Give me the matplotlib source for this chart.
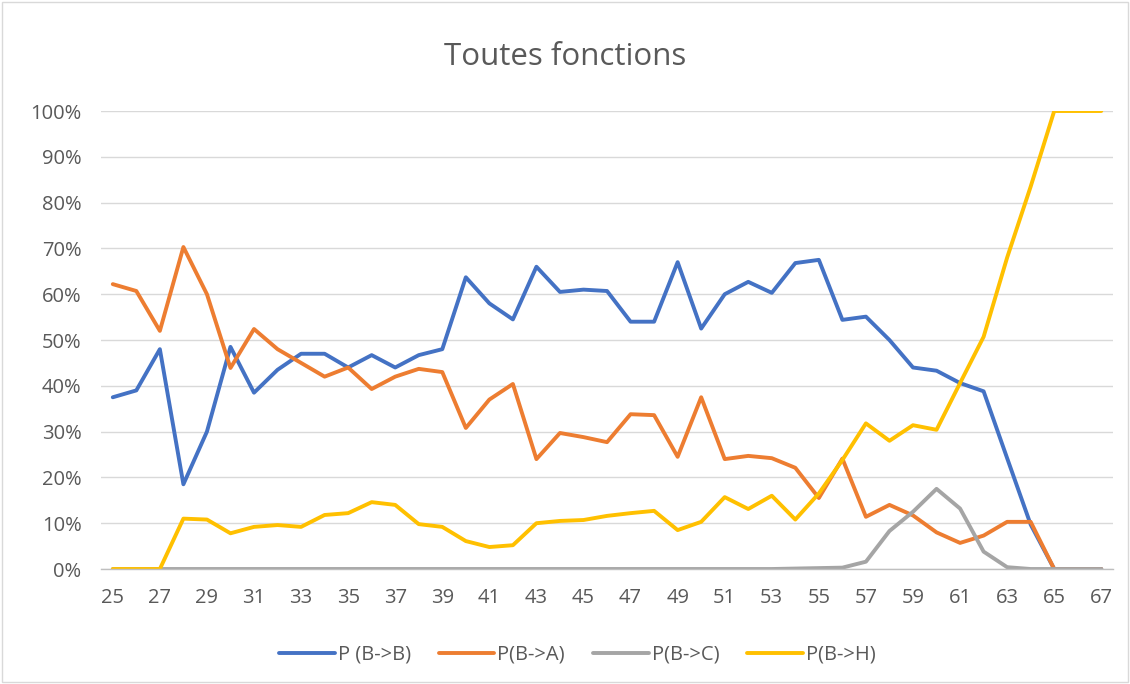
import matplotlib.pyplot as plt
import matplotlib.ticker as ticker
from matplotlib.patches import Rectangle

plt.rcParams["font.family"] = ["Open Sans", "DejaVu Sans"]

ages = list(range(25, 68))

p_bb = [37.5, 39, 48, 18.5, 30, 48.5, 38.5, 43.5, 47, 47, 44, 46.7, 44, 46.7, 48,
        63.7, 58, 54.5, 66, 60.5, 61, 60.7, 54, 54, 67, 52.5, 60, 62.7, 60.3, 66.8,
        67.5, 54.4, 55.1, 50, 44, 43.3, 40.6, 38.8, 24.2, 9.7, 0, 0, 0]
p_ba = [62.2, 60.7, 52, 70.3, 60, 43.9, 52.4, 48, 45, 42, 44, 39.3, 42, 43.7, 43,
        30.8, 37, 40.4, 24, 29.7, 28.8, 27.7, 33.8, 33.6, 24.5, 37.5, 24, 24.7, 24.2,
        22.1, 15.5, 24.1, 11.4, 14, 11.7, 8, 5.7, 7.3, 10.3, 10.3, 0, 0, 0]
p_bc = [0, 0, 0, 0, 0, 0, 0, 0, 0, 0, 0, 0, 0, 0, 0,
        0, 0, 0, 0, 0, 0, 0, 0, 0, 0, 0, 0, 0, 0, 0.1,
        0.2, 0.3, 1.6, 8.3, 12.5, 17.5, 13.2, 3.8, 0.4, 0, 0, 0, 0]
p_bh = [0, 0, 0, 11, 10.8, 7.8, 9.2, 9.6, 9.2, 11.8, 12.2, 14.6, 14, 9.8, 9.2,
        6.1, 4.8, 5.2, 10, 10.5, 10.7, 11.6, 12.2, 12.7, 8.5, 10.3, 15.7, 13.1, 16,
        10.8, 16.5, 23.8, 31.8, 28, 31.4, 30.4, 40.6, 50.7, 68, 83.5, 100, 100, 100]

series = [
    ("P (B->B)", p_bb, "#4472C4"),
    ("P(B->A)", p_ba, "#ED7D31"),
    ("P(B->C)", p_bc, "#A5A5A5"),
    ("P(B->H)", p_bh, "#FFC000"),
]

text_color = "#595959"
grid_color = "#D9D9D9"

fig = plt.figure(figsize=(11.3, 6.84), dpi=100)
ax = fig.add_axes([0.0894, 0.1681, 0.8956, 0.6696])

for label, values, color in series:
    ax.plot(ages, [v / 100 for v in values], color=color, linewidth=2.8,
            label=label, solid_joinstyle="round", solid_capstyle="round")

ax.set_xlim(24.5, 67.5)
ax.set_ylim(0, 1)
ax.set_xticks(ages[::2])
ax.set_yticks([i / 10 for i in range(11)])
ax.yaxis.set_major_formatter(ticker.PercentFormatter(1.0, decimals=0))

ax.grid(axis="y", color=grid_color, linewidth=1)
ax.set_axisbelow(True)
for side in ["top", "right", "left"]:
    ax.spines[side].set_visible(False)
ax.spines["bottom"].set_color("#BFBFBF")
ax.spines["bottom"].set_linewidth(1)
ax.tick_params(axis="both", length=0, labelsize=14.5, labelcolor=text_color)
ax.tick_params(axis="x", pad=14)
ax.tick_params(axis="y", pad=14)

fig.suptitle("Toutes fonctions", y=0.917, va="center", fontsize=22.5,
             color=text_color)

fig.legend(loc="center", bbox_to_anchor=(0.511, 0.043), ncol=4, frameon=False,
           fontsize=14.5, labelcolor=text_color, handlelength=2.75,
           columnspacing=1.4, handletextpad=0.15)

fig.patches.append(Rectangle((0.002, 0.003), 0.996, 0.994, transform=fig.transFigure,
                             fill=False, edgecolor=grid_color, linewidth=1))

fig.savefig("out.png", dpi=100)
